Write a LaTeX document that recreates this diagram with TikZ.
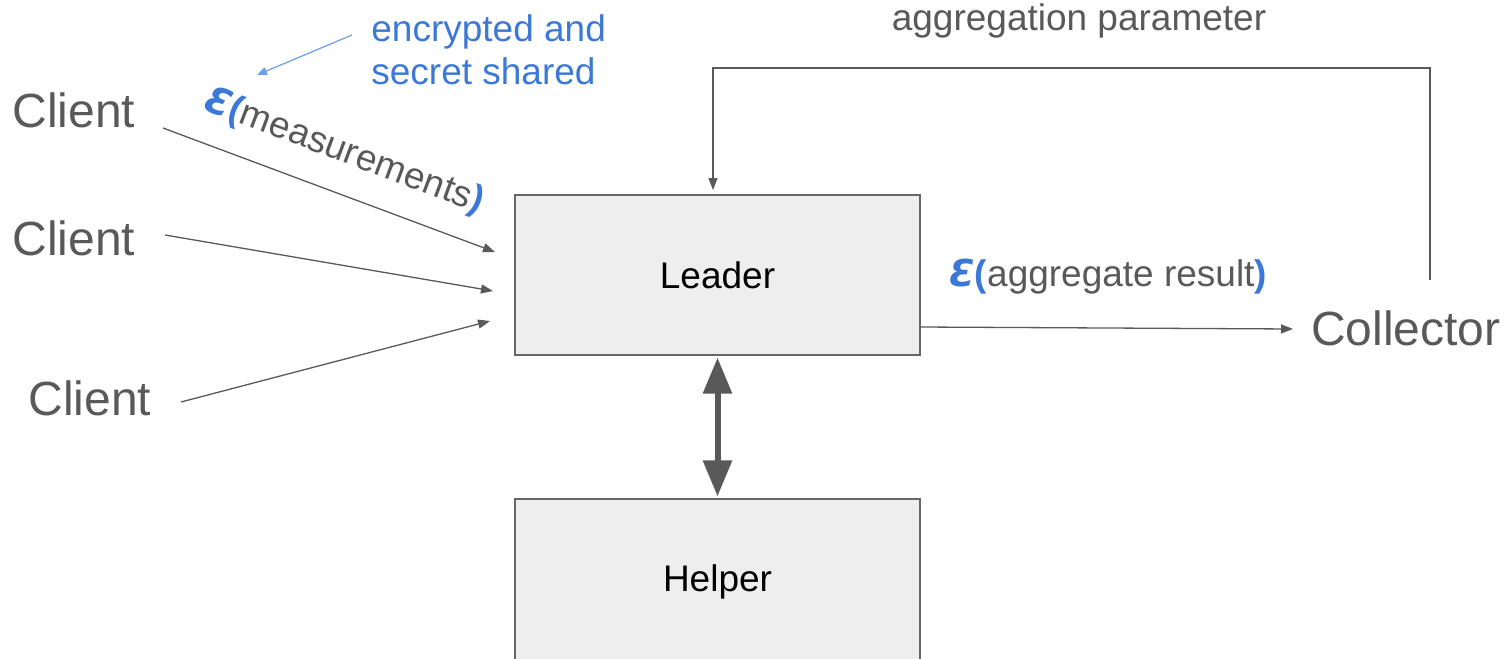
\documentclass[tikz,border=0pt]{standalone}
\usepackage{fontspec}
\setmainfont{Liberation Sans}
\newfontfamily\epsfont{DejaVu Sans}
\usetikzlibrary{arrows.meta}
\definecolor{txtgray}{HTML}{595959}
\definecolor{linegray}{HTML}{595959}
\definecolor{boxgray}{HTML}{666666}
\definecolor{boxfill}{HTML}{EEEEEE}
\definecolor{encblue}{HTML}{3C78D8}
\definecolor{lightblue}{HTML}{6D9EEB}
\newcommand{\Eopen}{{\color{encblue}{\epsfont\bfseries\itshape Ɛ}\bfseries(}}
\newcommand{\Eclose}{{\color{encblue}\bfseries )}}
\tikzset{
  big/.style={font=\fontsize{24pt}{28pt}\selectfont, text=txtgray, inner sep=0pt},
  small/.style={font=\fontsize{18.5pt}{21.5pt}\selectfont, inner sep=0pt},
  box/.style={draw=boxgray, line width=0.6pt, fill=boxfill, minimum width=202.5pt, font=\fontsize{18.5pt}{21.5pt}\selectfont, text=black},
  arr/.style={draw=linegray, line width=0.65pt, -{Triangle[length=6pt,width=4.5pt]}},
  dbl/.style={draw=linegray, line width=3pt, {Triangle[length=18pt,width=14pt]}-{Triangle[length=18pt,width=14pt]}, shorten <=1pt, shorten >=1pt},
  note/.style={draw=lightblue, line width=0.6pt, -{Triangle[length=5pt,width=4pt]}}
}
\begin{document}
\begin{tikzpicture}[x=0.5pt, y=-0.5pt]
\useasboundingbox (0,0) rectangle (1506,659);

% boxes
\node[box, minimum height=80pt] (leader) at (717.5,275) {Leader};
\node[box, minimum height=83pt] (helper) at (717.5,582) {Helper};

% clients and collector
\node[big] (c1) at (74,110) {Client};
\node[big] (c2) at (74,238) {Client};
\node[big] (c3) at (90,398) {Client};
\node[big] (coll) at (1406,328) {Collector};

% arrow endpoints
\coordinate (s1) at (163,128);
\coordinate (e1) at (495,252);
\coordinate (s2) at (165,235);
\coordinate (e2) at (493,291);
\coordinate (s3) at (181,402);
\coordinate (e3) at (490,321);
\coordinate (ls) at (920,327);
\coordinate (le) at (1293,329);
\coordinate (fb) at (1430,280);
\coordinate (fbtop) at (713,68);
\coordinate (fbend) at (713,190);
\coordinate (ns) at (352,35);
\coordinate (ne) at (257,75);

\draw[arr] (s1) -- (e1);
\draw[arr] (s2) -- (e2);
\draw[arr] (s3) -- (e3);
\draw[arr] (ls) -- (le);
\draw[arr] (fb) |- (fbtop) -- (fbend);
\draw[dbl] (leader) -- (helper);
\draw[note] (ns) -- (ne);

% labels
\node[small, text=txtgray] (aggp) at (1079,21) {aggregation parameter};
\node[small, text=txtgray] (aggr) at (1108,277) {\Eopen aggregate result\Eclose};
\node[small, text=txtgray, rotate=-20.5] (meas) at (344,152) {\Eopen measurements\Eclose};
\node[small, text=encblue, align=left, anchor=north west] (enc) at (371,14) {encrypted and\\secret shared};
\end{tikzpicture}
\end{document}
